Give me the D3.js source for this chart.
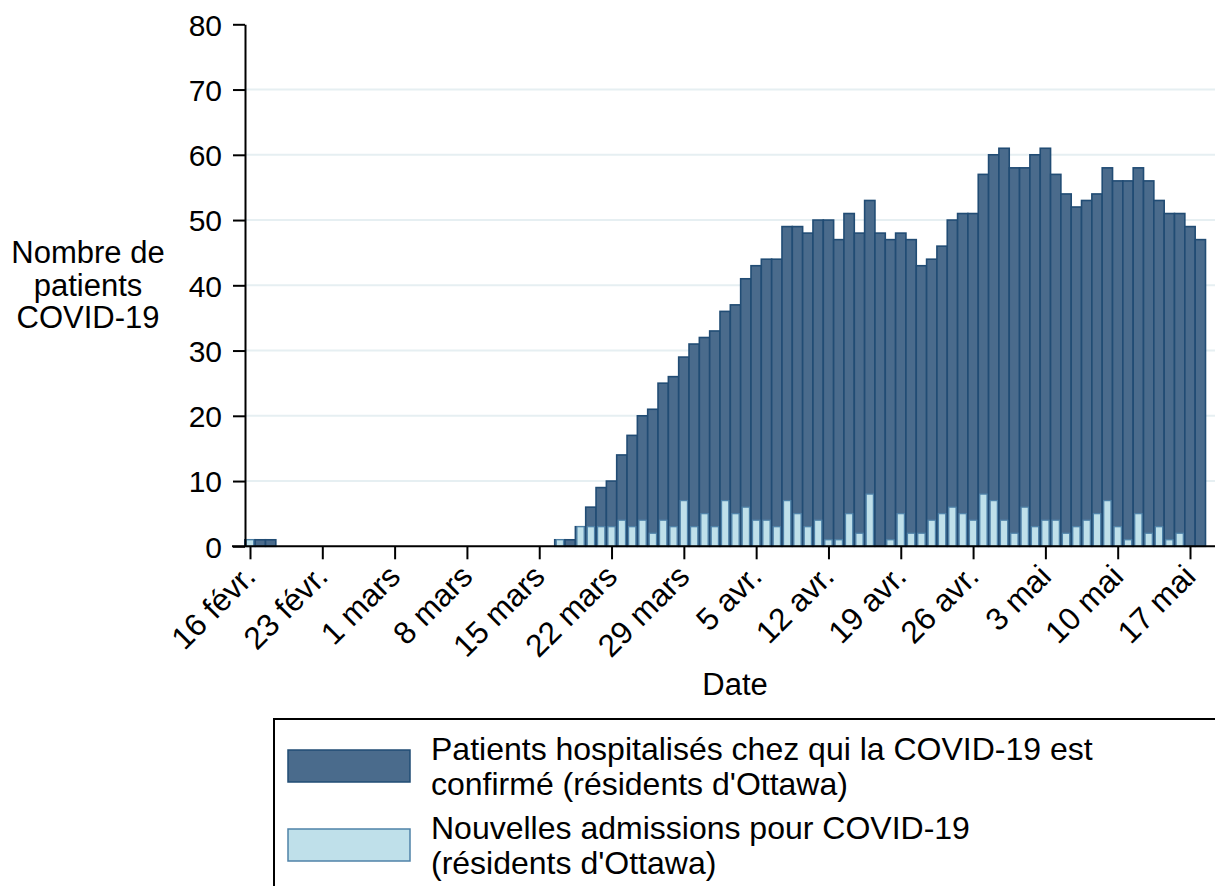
<head>
    <script src="https://d3js.org/d3.v7.min.js"></script>
    <style>
        body { margin: 0; background: #fff; }
        text { font-family: "Liberation Sans", Arial, sans-serif; fill: #000; }
    </style>
</head>

<body>
    <div id="chart"></div>
</body>

<script>
    // one value per day, from 16 févr. 2020 to 18 mai 2020
    const startDay = "2020-02-16";
    const hospitalises = [
        1, 1, 1, 0, 0, 0, 0, 0, 0, 0, 0, 0, 0, 0, 0, 0, 0, 0, 0, 0, 0, 0, 0, 0, 0, 0, 0, 0, 0, 0,
        1, 1, 3, 6, 9, 10, 14, 17, 20, 21, 25, 26, 29, 31, 32, 33, 36, 37, 41,
        43, 44, 44, 49, 49, 48, 50, 50, 47, 51, 48, 53, 48, 47, 48, 47, 43, 44, 46, 50, 51, 51,
        57, 60, 61, 58, 58, 60, 61, 57, 54, 52, 53, 54, 58, 56, 56, 58, 56, 53, 51, 51, 49, 47
    ];
    const nouvelles = [
        1, 0, 0, 0, 0, 0, 0, 0, 0, 0, 0, 0, 0, 0, 0, 0, 0, 0, 0, 0, 0, 0, 0, 0, 0, 0, 0, 0, 0, 0,
        1, 0, 3, 3, 3, 3, 4, 3, 4, 2, 4, 3, 7, 3, 5, 3, 7, 5, 6,
        4, 4, 3, 7, 5, 3, 4, 1, 1, 5, 2, 8, 0, 1, 5, 2, 2, 4, 5, 6, 5, 4,
        8, 7, 4, 2, 6, 3, 4, 4, 2, 3, 4, 5, 7, 3, 1, 5, 2, 3, 1, 2, 0, 0
    ];
    const yTicks = [0, 10, 20, 30, 40, 50, 60, 70, 80];
    const tickDates = ["2020-02-16", "2020-02-23", "2020-03-01", "2020-03-08", "2020-03-15", "2020-03-22", "2020-03-29",
        "2020-04-05", "2020-04-12", "2020-04-19", "2020-04-26", "2020-05-03", "2020-05-10", "2020-05-17"];
    const tickLabels = ["16 févr.", "23 févr.", "1 mars", "8 mars", "15 mars", "22 mars", "29 mars",
        "5 avr.", "12 avr.", "19 avr.", "26 avr.", "3 mai", "10 mai", "17 mai"];
    const yTitle = ["Nombre de", "patients", "COVID-19"];
    const xTitle = "Date";
    const legendLabels = [
        ["Patients hospitalisés chez qui la COVID-19 est", "confirmé (résidents d'Ottawa)"],
        ["Nouvelles admissions pour COVID-19", "(résidents d'Ottawa)"]
    ];

    const W = 1215, H = 886;
    const DAY = 864e5;
    const parse = d3.utcParse("%Y-%m-%d");
    const start = parse(startDay);
    const days = hospitalises.map((v, i) => d3.utcDay.offset(start, i));

    const colDark = "#4a6b8c", lineDark = "#214c74";
    const colLight = "#bfe0ea", lineLight = "#4f82a8";

    const svg = d3.select("#chart").append("svg")
        .attr("width", W)
        .attr("height", H);

    const x = d3.scaleUtc()
        .domain([new Date(start.getTime() - 0.484 * DAY), new Date(start.getTime() + 93.42 * DAY)])
        .range([245, 1215]);
    const y = d3.scaleLinear().domain([0, 80]).range([546.3, 24.3]);
    const bw = x(d3.utcDay.offset(start, 1)) - x(start);

    // grid
    svg.append("g").selectAll("line")
        .data(yTicks.filter(t => t > 0 && t < 80))
        .enter().append("line")
        .attr("x1", 245).attr("x2", W)
        .attr("y1", d => y(d)).attr("y2", d => y(d))
        .attr("stroke", "#e6eff2").attr("stroke-width", 2);

    // bars
    svg.append("g").selectAll("rect")
        .data(hospitalises.map((v, i) => ({ d: days[i], v })).filter(e => e.v > 0))
        .enter().append("rect")
        .attr("x", e => x(e.d) - bw / 2)
        .attr("width", bw)
        .attr("y", e => y(e.v))
        .attr("height", e => y(0) - y(e.v))
        .attr("fill", colDark)
        .attr("stroke", lineDark)
        .attr("stroke-width", 1.6);

    const lw = bw * 0.7;
    svg.append("g").selectAll("rect")
        .data(nouvelles.map((v, i) => ({ d: days[i], v })).filter(e => e.v > 0))
        .enter().append("rect")
        .attr("x", e => x(e.d) - lw / 2)
        .attr("width", lw)
        .attr("y", e => y(e.v))
        .attr("height", e => y(0) - y(e.v))
        .attr("fill", colLight)
        .attr("stroke", lineLight)
        .attr("stroke-width", 1.2);

    // y axis
    const yAxis = svg.append("g")
        .attr("transform", "translate(245,0)")
        .call(d3.axisLeft(y).tickValues(yTicks).tickSize(12).tickPadding(11).tickSizeOuter(0));
    yAxis.selectAll("text").style("font-size", "30px").attr("dy", "0.36em");

    // x axis
    const xAxis = svg.append("g")
        .attr("transform", "translate(0," + y(0) + ")")
        .call(d3.axisBottom(x).tickValues(tickDates.map(parse)).tickSize(13).tickSizeOuter(0)
            .tickFormat((d, i) => tickLabels[i]));
    xAxis.select(".domain").attr("d", "M232,0H" + W);
    xAxis.selectAll("text")
        .style("font-size", "31.5px")
        .attr("text-anchor", "end")
        .attr("dy", null)
        .attr("y", 0)
        .attr("transform", "translate(7,32) rotate(-45)");

    svg.selectAll(".domain, .tick line").attr("stroke", "#000").attr("stroke-width", 2);

    // titles
    svg.append("text")
        .attr("x", 88).attr("text-anchor", "middle")
        .style("font-size", "31px")
        .selectAll("tspan").data(yTitle).enter().append("tspan")
        .attr("x", 88)
        .attr("y", (d, i) => 263 + i * 32.5)
        .text(d => d);

    svg.append("text")
        .attr("x", 735).attr("y", 695)
        .attr("text-anchor", "middle")
        .style("font-size", "31px")
        .text(xTitle);

    // legend
    svg.append("rect")
        .attr("x", 274).attr("y", 719)
        .attr("width", 960).attr("height", 200)
        .attr("fill", "#fff").attr("stroke", "#000").attr("stroke-width", 2);

    const leg = svg.append("g").selectAll("g")
        .data(legendLabels).enter().append("g")
        .attr("transform", (d, i) => "translate(0," + i * 79 + ")");
    leg.append("rect")
        .attr("x", 288).attr("y", 750)
        .attr("width", 122).attr("height", 32)
        .attr("fill", (d, i) => i === 0 ? colDark : colLight)
        .attr("stroke", (d, i) => i === 0 ? lineDark : lineLight)
        .attr("stroke-width", 1.5);
    leg.append("text")
        .style("font-size", "32px")
        .selectAll("tspan").data(d => d).enter().append("tspan")
        .attr("x", 431)
        .attr("y", (d, i) => 760 + i * 35)
        .text(d => d);
</script>
